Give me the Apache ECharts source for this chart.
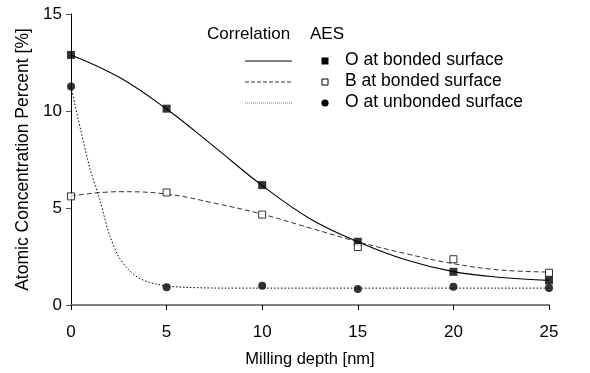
<!DOCTYPE html>
<html>
<head>
<meta charset="utf-8">
<script src="https://cdn.jsdelivr.net/npm/echarts@6/dist/echarts.min.js"></script>
<style>
  html, body { margin: 0; padding: 0; background: #fff; }
  #chart { width: 590px; height: 373px; }
</style>
</head>
<body>
<div id="chart"></div>
<script>
// AES measurements (atomic concentration, %) versus milling depth (nm)
const depths = [0, 5, 10, 15, 20, 25];
const oBonded = [12.89, 10.12, 6.18, 3.26, 1.71, 1.27];
const bBonded = [5.6, 5.8, 4.66, 2.99, 2.36, 1.66];
const oUnbonded = [11.26, 0.91, 0.99, 0.82, 0.94, 0.87];

// Correlation curves, sampled along the depth axis
const oBondedFitX = [0, 2.5, 5, 7.5, 10, 12.5, 15, 17.5, 20, 22.5, 25];
const oBondedFitY = [12.89, 11.75, 10.1, 8.15, 6.16, 4.45, 3.26, 2.33, 1.72, 1.42, 1.27];
const bBondedFitX = [0, 2.5, 5, 7.5, 10, 12.5, 15, 17.5, 20, 22.5, 25];
const bBondedFitY = [5.62, 5.84, 5.72, 5.25, 4.68, 3.97, 3.26, 2.65, 2.13, 1.8, 1.7];
const oUnbondedFitX = [0, 0.5, 1, 1.5, 2, 2.5, 3, 3.5, 4, 4.5, 5, 6, 8, 12, 18, 25];
const oUnbondedFitY = [11.26, 9.05, 7.0, 5.45, 3.65, 2.48, 1.83, 1.42, 1.2, 1.07, 0.98, 0.91, 0.87, 0.87, 0.87, 0.87];

const seriesNames = ['O at bonded surface', 'B at bonded surface', 'O at unbonded surface'];
const xTicks = { min: 0, max: 25, interval: 5 };
const yTicks = { min: 0, max: 15, interval: 5 };

const FONT = '"Liberation Sans", Arial, sans-serif';

function pairs(xs, ys) { return xs.map((x, i) => [x, ys[i]]); }

const chart = echarts.init(document.getElementById('chart'), null, { renderer: 'canvas' });

// legend block: correlation line sample, AES marker, label
const legX = { line0: 245, line1: 292, marker: 325, text: 345 };
const legRows = [61, 82, 103];
const legLine = [
  { stroke: '#000', lineWidth: 1 },
  { stroke: '#333', lineWidth: 1, lineDash: [4, 2] },
  { stroke: '#777', lineWidth: 1, lineDash: [1, 1] }
];
const graphics = [
  { type: 'text', left: 207, top: 26, style: { text: 'Correlation', font: '17px ' + FONT, fill: '#000' } },
  { type: 'text', left: 310, top: 26, style: { text: 'AES', font: '17px ' + FONT, fill: '#000' } }
];
legRows.forEach((y, i) => {
  graphics.push({ type: 'line', shape: { x1: legX.line0, y1: y, x2: legX.line1, y2: y }, style: legLine[i] });
  if (i === 0) {
    graphics.push({ type: 'rect', shape: { x: legX.marker - 3.5, y: y - 3.5, width: 7, height: 7 }, style: { fill: '#000' } });
  } else if (i === 1) {
    graphics.push({ type: 'rect', shape: { x: legX.marker - 3, y: y - 3, width: 6, height: 6 }, style: { fill: '#fff', stroke: '#000', lineWidth: 1 } });
  } else {
    graphics.push({ type: 'circle', shape: { cx: legX.marker, cy: y, r: 3.6 }, style: { fill: '#000' } });
  }
  graphics.push({ type: 'text', left: legX.text, top: y - 10, style: { text: seriesNames[i], font: '17.5px ' + FONT, fill: '#000' } });
});

const option = {
  backgroundColor: '#fff',
  animation: false,
  grid: { left: 71, right: 41, top: 14, bottom: 67, containLabel: false },
  xAxis: {
    type: 'value',
    min: xTicks.min, max: xTicks.max, interval: xTicks.interval,
    name: 'Milling depth [nm]',
    nameLocation: 'middle',
    nameGap: 46,
    nameTextStyle: { fontFamily: FONT, fontSize: 16.5, color: '#000' },
    axisLine: { show: true, onZero: false, lineStyle: { color: '#808080', width: 2 } },
    axisTick: { show: true, inside: false, length: 5, lineStyle: { color: '#000', width: 1 } },
    axisLabel: { fontFamily: FONT, fontSize: 17, color: '#000', margin: 19 },
    splitLine: { show: false }
  },
  yAxis: {
    type: 'value',
    min: yTicks.min, max: yTicks.max, interval: yTicks.interval,
    name: 'Atomic Concentration Percent [%]',
    nameLocation: 'middle',
    nameGap: 35,
    nameTextStyle: { fontFamily: FONT, fontSize: 17.5, color: '#000' },
    axisLine: { show: true, onZero: false, lineStyle: { color: '#000', width: 1 } },
    axisTick: { show: true, length: 5, lineStyle: { color: '#555', width: 1 } },
    axisLabel: { fontFamily: FONT, fontSize: 17, color: '#000', margin: 9 },
    splitLine: { show: false }
  },
  graphic: graphics,
  series: [
    {
      name: seriesNames[0] + ' fit', type: 'line', smooth: 0.4, symbol: 'none',
      data: pairs(oBondedFitX, oBondedFitY),
      lineStyle: { color: '#000', width: 1.1 }, z: 2
    },
    {
      name: seriesNames[1] + ' fit', type: 'line', smooth: 0.4, symbol: 'none',
      data: pairs(bBondedFitX, bBondedFitY),
      lineStyle: { color: '#333', width: 1, type: [5, 3] }, z: 2
    },
    {
      name: seriesNames[2] + ' fit', type: 'line', smooth: 0.3, symbol: 'none',
      data: pairs(oUnbondedFitX, oUnbondedFitY),
      lineStyle: { color: '#000', width: 1, type: [1.5, 2] }, z: 2
    },
    {
      name: seriesNames[0], type: 'scatter', symbol: 'rect', symbolSize: 8,
      data: pairs(depths, oBonded),
      itemStyle: { color: '#000' }, z: 4
    },
    {
      name: seriesNames[1], type: 'scatter', symbol: 'rect', symbolSize: 7,
      data: pairs(depths, bBonded),
      itemStyle: { color: '#fff', borderColor: '#000', borderWidth: 1 }, z: 4
    },
    {
      name: seriesNames[2], type: 'scatter', symbol: 'circle', symbolSize: 8,
      data: pairs(depths, oUnbonded),
      itemStyle: { color: '#000' }, z: 4
    }
  ]
};

chart.setOption(option);
</script>
</body>
</html>
